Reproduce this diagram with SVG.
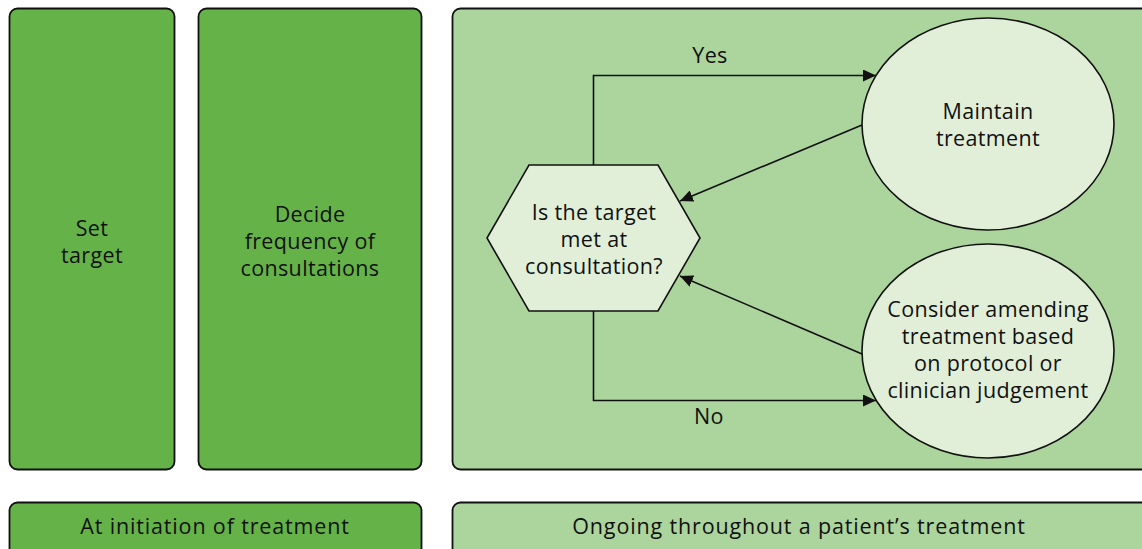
<svg xmlns="http://www.w3.org/2000/svg" width="1142" height="549" viewBox="0 0 1142 549">
<defs>
<style>
.dk{fill:#65b348;stroke:#111;stroke-width:1.8}
.lt{fill:#acd49d;stroke:#111;stroke-width:1.8}
.nd{fill:#e1efd9;stroke:#111;stroke-width:1.6}
.ln{fill:none;stroke:#111;stroke-width:1.6}
text{font-family:"Open Sans","Noto Sans","Liberation Sans",sans-serif;font-size:21.5px;letter-spacing:0.35px;fill:#111;text-anchor:middle}
text.ft{letter-spacing:0.85px}
</style>
<marker id="ah" viewBox="0 0 13 12" refX="13" refY="6" markerWidth="13" markerHeight="12" markerUnits="userSpaceOnUse" orient="auto">
<path d="M0,0 L13,6 L0,12 z" fill="#111"/>
</marker>
</defs>
<g id="set-target"><rect class="dk" x="9.5" y="8.5" width="165" height="461" rx="8"/><text x="92" y="236">Set</text><text x="92" y="263">target</text></g>
<g id="decide-frequency"><rect class="dk" x="198.5" y="8.5" width="223" height="461" rx="8"/><text x="310" y="222">Decide</text><text x="310" y="249">frequency of</text><text x="310" y="276">consultations</text></g>
<g id="ongoing-panel"><rect class="lt" x="452.5" y="8.5" width="700" height="461" rx="8"/></g>
<g id="initiation-label"><rect class="dk" x="9.5" y="502.5" width="412" height="70" rx="8"/><text class="ft" x="215" y="534">At initiation of treatment</text></g>
<g id="ongoing-label"><rect class="lt" x="452.5" y="502.5" width="700" height="70" rx="8"/><text class="ft" x="799" y="534">Ongoing throughout a patient’s treatment</text></g>
<g id="connectors">
<path class="ln" d="M593.5,165 V75.5 H876" marker-end="url(#ah)"/>
<path class="ln" d="M593.5,311 V400.5 H876" marker-end="url(#ah)"/>
<line class="ln" x1="862" y1="125" x2="680" y2="201" marker-end="url(#ah)"/>
<line class="ln" x1="862" y1="354" x2="680" y2="276" marker-end="url(#ah)"/>
<text x="710" y="63">Yes</text>
<text x="709" y="424">No</text>
</g>
<g id="decision"><polygon class="nd" points="529,165 658,165 700,238 658,311 529,311 487,238"/><text x="594" y="220">Is the target</text><text x="594" y="247">met at</text><text x="594" y="274">consultation?</text></g>
<g id="maintain"><ellipse class="nd" cx="988" cy="124" rx="126" ry="106"/><text x="988" y="119">Maintain</text><text x="988" y="146">treatment</text></g>
<g id="amend"><ellipse class="nd" cx="988" cy="351" rx="126" ry="107"/><text x="988" y="317">Consider amending</text><text x="988" y="344">treatment based</text><text x="988" y="371">on protocol or</text><text x="988" y="398">clinician judgement</text></g>
</svg>
